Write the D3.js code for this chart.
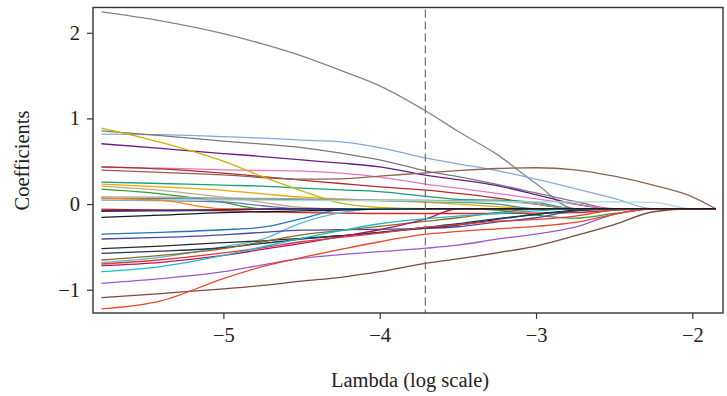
<!DOCTYPE html>
<html>
<head>
<meta charset="utf-8">
<script src="https://cdn.jsdelivr.net/npm/d3@7"></script>
<style>
  body { margin: 0; background: #fff; }
  text { font-family: "Liberation Serif", "DejaVu Serif", serif; fill: #222; }
</style>
</head>
<body>
<div id="chart"></div>
<script>
// log(lambda) positions the paths were read at
var lambdaGrid = [-5.78, -5.40, -5.00, -4.75, -4.50, -4.25, -4.00, -3.70, -3.50, -3.25, -3.00, -2.75, -2.50, -2.25, -2.00, -1.85];
var xTicks = [-5, -4, -3, -2];
var yTicks = [-1, 0, 1, 2];
var lambdaMin = -3.708;

// coefficient paths, one array per variable
var gray1 = [2.244, 2.14, 1.99, 1.87, 1.73, 1.56, 1.38, 1.08, 0.85, 0.58, 0.24, -0.055, -0.055, -0.055, -0.055, -0.055];
var lightBlue = [0.817, 0.81, 0.787, 0.77, 0.747, 0.727, 0.66, 0.535, 0.47, 0.39, 0.29, 0.18, 0.065, -0.055, -0.055, -0.055];
var gray2 = [0.855, 0.80, 0.735, 0.70, 0.66, 0.595, 0.515, 0.385, 0.32, 0.23, 0.13, 0.03, -0.055, -0.055, -0.055, -0.055];
var purple = [0.704, 0.65, 0.59, 0.555, 0.515, 0.478, 0.435, 0.335, 0.285, 0.215, 0.11, 0.0, -0.055, -0.055, -0.055, -0.055];
var pink = [0.43, 0.42, 0.40, 0.392, 0.385, 0.36, 0.315, 0.23, 0.185, 0.125, 0.06, 0.0, -0.055, -0.055, -0.055, -0.055];
var crimson = [0.435, 0.41, 0.36, 0.32, 0.28, 0.24, 0.2, 0.163, 0.125, 0.07, 0.0, -0.055, -0.055, -0.055, -0.055, -0.055];
var brownUp = [0.397, 0.37, 0.34, 0.31, 0.29, 0.295, 0.327, 0.365, 0.39, 0.415, 0.424, 0.40, 0.325, 0.22, 0.085, -0.055];
var teal = [0.257, 0.24, 0.22, 0.21, 0.185, 0.165, 0.145, 0.09, 0.055, 0.045, 0.02, -0.055, -0.055, -0.055, -0.055, -0.055];
var gold = [0.233, 0.2, 0.16, 0.12, 0.08, 0.06, 0.04, 0.02, 0.0, -0.03, -0.055, -0.055, -0.055, -0.055, -0.055, -0.055];
var yellow = [0.887, 0.72, 0.50, 0.32, 0.155, 0.01, -0.04, -0.055, -0.055, -0.055, -0.055, -0.055, -0.055, -0.055, -0.055, -0.055];
var tan = [0.21, 0.16, 0.08, 0.02, -0.04, -0.055, -0.055, -0.055, -0.055, -0.055, -0.055, -0.055, -0.055, -0.055, -0.055, -0.055];
var brightGreen = [0.175, 0.12, 0.02, -0.055, -0.055, -0.055, -0.055, -0.055, -0.055, -0.07, -0.13, -0.165, -0.11, -0.055, -0.055, -0.055];
var teal2 = [0.066, 0.062, 0.058, 0.055, 0.05, 0.045, 0.04, 0.03, 0.02, 0.0, -0.055, -0.055, -0.055, -0.055, -0.055, -0.055];
var gray3 = [0.085, 0.08, 0.07, 0.065, 0.06, 0.055, 0.05, 0.045, 0.04, 0.035, 0.0, -0.055, -0.055, -0.055, -0.055, -0.055];
var purpleBlue = [0.047, 0.04, 0.025, -0.02, -0.055, -0.055, -0.055, -0.055, -0.055, -0.055, -0.055, -0.055, -0.055, -0.055, -0.055, -0.055];
var paleAqua = [0.05, 0.05, 0.045, 0.045, 0.04, 0.04, 0.04, 0.035, 0.03, 0.03, 0.025, 0.025, 0.025, 0.02, -0.055, -0.055];
var orange = [0.07, 0.045, -0.055, -0.055, -0.055, -0.055, -0.055, -0.055, -0.055, -0.055, -0.055, -0.055, -0.055, -0.055, -0.055, -0.055];
var red2 = [-0.06, -0.07, -0.08, -0.09, -0.1, -0.105, -0.11, -0.11, -0.11, -0.11, -0.105, -0.1, -0.07, -0.055, -0.055, -0.055];
var darkRed = [-0.075, -0.07, -0.065, -0.06, -0.055, -0.055, -0.055, -0.055, -0.055, -0.055, -0.055, -0.055, -0.055, -0.055, -0.055, -0.055];
var navy2 = [-0.085, -0.08, -0.07, -0.06, -0.055, -0.055, -0.055, -0.055, -0.055, -0.055, -0.055, -0.055, -0.055, -0.055, -0.055, -0.055];
var steelBlue = [-0.35, -0.33, -0.30, -0.27, -0.17, -0.065, -0.055, -0.055, -0.055, -0.055, -0.055, -0.055, -0.055, -0.055, -0.055, -0.055];
var lightCyan = [-0.685, -0.62, -0.50, -0.41, -0.22, -0.10, -0.055, -0.055, -0.055, -0.055, -0.055, -0.055, -0.055, -0.055, -0.055, -0.055];
var slate = [-0.408, -0.39, -0.36, -0.33, -0.305, -0.30, -0.295, -0.285, -0.265, -0.21, -0.16, -0.08, -0.055, -0.055, -0.055, -0.055];
var black2 = [-0.52, -0.49, -0.45, -0.43, -0.40, -0.37, -0.33, -0.28, -0.245, -0.18, -0.12, -0.07, -0.055, -0.055, -0.055, -0.055];
var darkNavy = [-0.575, -0.55, -0.51, -0.46, -0.41, -0.37, -0.33, -0.27, -0.23, -0.17, -0.12, -0.08, -0.055, -0.055, -0.055, -0.055];
var olive = [-0.653, -0.6, -0.52, -0.44, -0.36, -0.31, -0.26, -0.2, -0.16, -0.1, -0.06, -0.055, -0.055, -0.055, -0.055, -0.055];
var maroon = [-0.72, -0.68, -0.60, -0.53, -0.46, -0.38, -0.30, -0.17, -0.055, -0.055, -0.055, -0.055, -0.055, -0.055, -0.055, -0.055];
var red3 = [-0.70, -0.65, -0.57, -0.51, -0.44, -0.39, -0.34, -0.27, -0.24, -0.2, -0.18, -0.14, -0.07, -0.055, -0.055, -0.055];
var cyan = [-0.79, -0.73, -0.60, -0.50, -0.40, -0.31, -0.23, -0.17, -0.14, -0.11, -0.08, -0.055, -0.055, -0.055, -0.055, -0.055];
var orchid = [-0.925, -0.87, -0.79, -0.71, -0.635, -0.59, -0.555, -0.515, -0.48, -0.41, -0.35, -0.27, -0.12, -0.055, -0.055, -0.055];
var brownDown = [-1.093, -1.045, -0.99, -0.95, -0.90, -0.855, -0.79, -0.69, -0.64, -0.57, -0.49, -0.37, -0.24, -0.09, -0.055, -0.055];
var redOrange = [-1.225, -1.13, -0.87, -0.73, -0.625, -0.53, -0.44, -0.352, -0.32, -0.29, -0.26, -0.215, -0.12, -0.055, -0.055, -0.055];
var black = [-0.155, -0.13, -0.10, -0.09, -0.08, -0.07, -0.06, -0.055, -0.055, -0.055, -0.055, -0.055, -0.055, -0.055, -0.055, -0.055];

var series = [
  {values: gray1, color: "#858585"},
  {values: lightBlue, color: "#86a8e0"},
  {values: gray2, color: "#7a7a7a"},
  {values: purple, color: "#6a1b8a"},
  {values: pink, color: "#e377c2"},
  {values: crimson, color: "#b8282d"},
  {values: brownUp, color: "#8c6450"},
  {values: teal, color: "#1b9e77"},
  {values: gold, color: "#e6ab02"},
  {values: yellow, color: "#c9b400"},
  {values: tan, color: "#c4a88c"},
  {values: brightGreen, color: "#2ca02c"},
  {values: teal2, color: "#3f8f8f"},
  {values: gray3, color: "#a0a0a0"},
  {values: purpleBlue, color: "#7570b3"},
  {values: paleAqua, color: "#a8dccd"},
  {values: orange, color: "#ff7f0e"},
  {values: red2, color: "#d62728"},
  {values: darkRed, color: "#8b1a1a"},
  {values: navy2, color: "#283593"},
  {values: steelBlue, color: "#1f77b4"},
  {values: lightCyan, color: "#5bb8d6"},
  {values: slate, color: "#4b4b9b"},
  {values: black2, color: "#2b2b2b"},
  {values: darkNavy, color: "#1f3a5f"},
  {values: olive, color: "#8c6d1f"},
  {values: maroon, color: "#b5175a"},
  {values: red3, color: "#e03a3a"},
  {values: cyan, color: "#17becf"},
  {values: orchid, color: "#9b59d0"},
  {values: brownDown, color: "#7b4a3e"},
  {values: redOrange, color: "#e8472a"},
  {values: black, color: "#1a1a1a"}
];

var width = 727, height = 396;
var margin = {top: 7.5, right: 4, bottom: 83, left: 93};
var w = width - margin.left - margin.right;
var h = height - margin.top - margin.bottom;

var svg = d3.select("#chart").append("svg")
  .attr("width", width).attr("height", height);
var g = svg.append("g").attr("transform", "translate(" + margin.left + "," + margin.top + ")");

var x = d3.scaleLinear().domain([-5.834, -1.804]).range([0, w]);
var y = d3.scaleLinear().domain([-1.272, 2.295]).range([h, 0]);

var line = d3.line()
  .x(function(d, i){ return x(lambdaGrid[i]); })
  .y(function(d){ return y(d); })
  .curve(d3.curveMonotoneX);

g.append("defs").append("clipPath").attr("id", "clip")
  .append("rect").attr("width", w).attr("height", h);

g.append("g").attr("clip-path", "url(#clip)")
  .selectAll("path").data(series)
  .enter().append("path")
  .attr("d", function(d){ return line(d.values); })
  .attr("fill", "none")
  .attr("stroke", function(d){ return d.color; })
  .attr("stroke-width", 1.3);

// lambda.min marker
g.append("line")
  .attr("x1", x(lambdaMin)).attr("x2", x(lambdaMin))
  .attr("y1", 2).attr("y2", h)
  .attr("stroke", "#707070").attr("stroke-width", 1.2)
  .attr("stroke-dasharray", "8,4");

// axes, R style
var minus = function(d){ return d3.format("")(d).replace("-", "\u2212"); };
var xAxis = g.append("g").attr("transform", "translate(0," + h + ")")
  .call(d3.axisBottom(x).tickValues(xTicks).tickSize(6).tickPadding(8).tickFormat(minus));
var yAxis = g.append("g")
  .call(d3.axisLeft(y).tickValues(yTicks).tickSize(6).tickPadding(7).tickFormat(minus));
[xAxis, yAxis].forEach(function(a){
  a.select(".domain").remove();
  a.selectAll("line").attr("stroke", "#333").attr("stroke-width", 1.2);
  a.selectAll("text").attr("font-size", 20.5).attr("fill", "#222");
});

g.append("rect")
  .attr("width", w).attr("height", h)
  .attr("fill", "none").attr("stroke", "#333").attr("stroke-width", 1.4);

svg.append("text")
  .attr("x", margin.left + w / 2 + 2).attr("y", 387)
  .attr("text-anchor", "middle").attr("font-size", 20.5)
  .text("Lambda (log scale)");

svg.append("text")
  .attr("transform", "translate(29," + (margin.top + 153) + ") rotate(-90)")
  .attr("text-anchor", "middle").attr("font-size", 20.5)
  .text("Coefficients");
</script>
</body>
</html>
